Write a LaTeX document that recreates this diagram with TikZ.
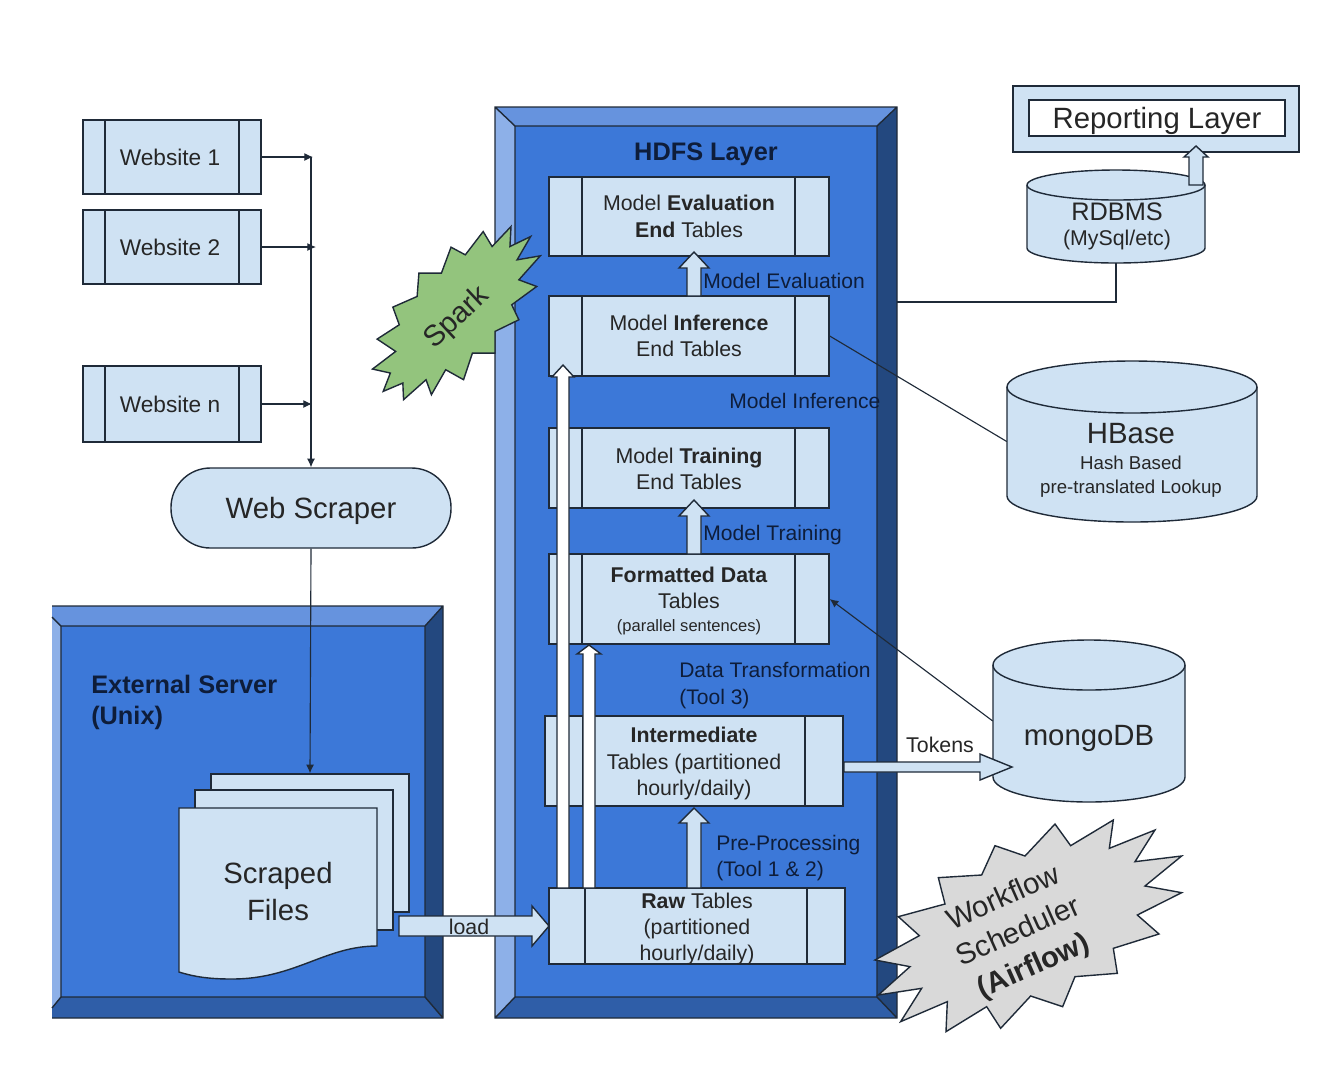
\documentclass[tikz,border=0pt]{standalone}
\usepackage{fontspec}
\setmainfont{Liberation Sans}
\usetikzlibrary{arrows.meta}
\definecolor{pale}{HTML}{CFE2F3}
\definecolor{face}{HTML}{3C78D8}
\definecolor{btop}{HTML}{6693DE}
\definecolor{bleft}{HTML}{8DB0E8}
\definecolor{bright}{HTML}{23487F}
\definecolor{bbot}{HTML}{2F5EA8}
\definecolor{edge}{HTML}{1F2A38}
\definecolor{ink}{HTML}{262626}
\definecolor{bluink}{HTML}{0E1D3A}
\definecolor{sparkc}{HTML}{93C47D}
\definecolor{wfc}{HTML}{D9D9D9}
\newcommand{\fszw}{\fontsize{17}{20}\selectfont}
\tikzset{
  ln/.style={draw=edge,line width=1.05pt,line join=miter},
  pbox/.style={ln,fill=pale,inner sep=0pt,align=center,text=ink},
  lbl/.style={inner sep=0pt,align=left,anchor=west,text=bluink},
  tip/.style={-{Latex[length=6.5pt,width=6pt]}},
  conn/.style={draw=edge,line width=0.85pt},
  f15/.style={font=\fontsize{15.8}{19.8}\selectfont},
  f16/.style={font=\fontsize{16}{19.8}\selectfont},
  f19/.style={font=\fontsize{19}{23.2}\selectfont},
  f22/.style={font=\fontsize{22}{27.7}\selectfont},
}
% name x1 y1 x2 y2 xl xr text
\newcommand{\procbox}[8]{%
  \pgfmathsetmacro\cxv{(#2+#4)/2}\pgfmathsetmacro\cyv{(#3+#5)/2}%
  \pgfmathsetmacro\wv{(#4-#2)*0.75}\pgfmathsetmacro\hv{(#5-#3)*0.75}%
  \node[pbox,f16,minimum width=\wv pt,minimum height=\hv pt] (#1) at (\cxv,\cyv) {#8};
  \draw[ln] (#6,#3) -- (#6,#5) (#7,#3) -- (#7,#5);
}
% name x1 ytop x2 ybot ry
\newcommand{\cyl}[6]{%
  \pgfmathsetmacro\cxv{(#2+#4)/2}\pgfmathsetmacro\cyv{(#3+#5)/2}%
  \pgfmathsetmacro\wv{(#4-#2)*0.75}\pgfmathsetmacro\hv{(#5-#3)*0.75}%
  \pgfmathsetmacro\rxv{(#4-#2)*0.375}\pgfmathsetmacro\ryv{#6*0.75}%
  \pgfmathsetmacro\ytv{#3+#6}\pgfmathsetmacro\ybv{#5-#6}%
  \draw[ln,fill=pale] (#2,\ytv) -- (#2,\ybv) arc[start angle=180,end angle=360,x radius=\rxv pt,y radius=\ryv pt] -- (#4,\ytv) arc[start angle=0,end angle=180,x radius=\rxv pt,y radius=\ryv pt];
  \draw[ln] (#2,\ytv) arc[start angle=180,end angle=360,x radius=\rxv pt,y radius=\ryv pt];
  \node[inner sep=0pt,minimum width=\wv pt,minimum height=\hv pt] (#1) at (\cxv,\cyv) {};
}
% vertical block arrow: xc ybottom ytip ybase halfshaft halfhead fill
\newcommand{\upblock}[7]{%
  \pgfmathsetmacro\aav{#1-#5}\pgfmathsetmacro\bbv{#1+#5}\pgfmathsetmacro\ccv{#1-#6}\pgfmathsetmacro\ddv{#1+#6}%
  \draw[ln,fill=#7] (\aav,#2) -- (\aav,#4) -- (\ccv,#4) -- (#1,#3) -- (\ddv,#4) -- (\bbv,#4) -- (\bbv,#2) -- cycle;
}
% horizontal block arrow: xstart xbase xtip yc halfshaft halfhead
\newcommand{\rightblock}[6]{%
  \pgfmathsetmacro\aav{#4-#5}\pgfmathsetmacro\bbv{#4+#5}\pgfmathsetmacro\ccv{#4-#6}\pgfmathsetmacro\ddv{#4+#6}%
  \draw[ln,fill=pale] (#1,\aav) -- (#2,\aav) -- (#2,\ccv) -- (#3,#4) -- (#2,\ddv) -- (#2,\bbv) -- (#1,\bbv) -- cycle;
}
\begin{document}
\begin{tikzpicture}[x=.75pt,y=-.75pt]
\useasboundingbox (0,0) rectangle (1334,1072);

% ---------- HDFS frame
\fill[btop] (495,107) -- (897,107) -- (877,126) -- (515,126) -- cycle;
\fill[bleft] (495,107) -- (515,126) -- (515,997) -- (495,1018) -- cycle;
\fill[bright] (897,107) -- (877,126) -- (877,997) -- (897,1018) -- cycle;
\fill[bbot] (495,1018) -- (515,997) -- (877,997) -- (897,1018) -- cycle;
\fill[face] (515,126) rectangle (877,997);
\draw[ln] (495,107) rectangle (897,1018) (515,126) rectangle (877,997)
  (495,107) -- (515,126) (897,107) -- (877,126) (495,1018) -- (515,997) (897,1018) -- (877,997);
\coordinate (hdfsEdge) at (897,302);

% ---------- External server frame
\fill[btop] (52,606) -- (443,606) -- (425,626) -- (61,626) -- (52,617) -- cycle;
\fill[bleft] (52,617) -- (61,626) -- (61,997) -- (52,1008) -- cycle;
\fill[bright] (443,606) -- (425,626) -- (425,997) -- (443,1018) -- cycle;
\fill[bbot] (52,1018) -- (52,1008) -- (61,997) -- (425,997) -- (443,1018) -- cycle;
\fill[face] (61,626) rectangle (425,997);
\draw[ln] (52,606) -- (443,606) -- (443,1018) -- (52,1018)
  (61,626) rectangle (425,997)
  (52,617) -- (61,626) (443,606) -- (425,626) (52,1008) -- (61,997) (443,1018) -- (425,997);

% ---------- Process boxes in the HDFS layer
\procbox{eval}{549}{177}{829}{256}{582}{795}{Model \textbf{Evaluation}\\\textbf{End} Tables}
\procbox{infer}{549}{296}{829}{376}{582}{795}{Model \textbf{Inference}\\End Tables}
\procbox{train}{549}{428}{829}{508}{582}{795}{\rule{0pt}{13.2pt}Model \textbf{Training}\\End Tables}
\procbox{fmt}{549}{554}{829}{644}{582}{795}{\rule{0pt}{14.6pt}\textbf{Formatted Data}\\Tables\\[-2.5pt]{\fontsize{12.4}{15}\selectfont (parallel sentences)}}
\procbox{inter}{545}{716}{843}{806}{583}{805}{\rule{0pt}{15.4pt}\textbf{Intermediate}\\Tables (partitioned\\hourly/daily)}
\procbox{raw}{549}{888}{845}{964}{585}{807}{}
\node[inner sep=0pt,align=center,text=ink,f16] (rawT) at (697,929) {\textbf{Raw} Tables\\(partitioned\\hourly/daily)};

% ---------- Block arrows
\upblock{694}{296}{252}{268}{7}{15}{pale}
\upblock{694}{554}{500}{516}{7}{15}{pale}
\upblock{694}{888}{808}{823}{7}{15}{pale}
\upblock{563}{888}{365}{377}{6}{11}{white}
\upblock{589}{888}{645}{654}{6}{12}{white}

% ---------- Websites
\procbox{w1}{83}{120}{261}{194}{105}{239}{\fszw Website 1\hspace*{3pt}}
\procbox{w2}{83}{210}{261}{284}{105}{239}{\fszw Website 2\hspace*{3pt}}
\procbox{wn}{83}{366}{261}{442}{105}{239}{\fszw Website n\hspace*{3pt}}

\node[pbox,f22,rounded corners=29.5pt,minimum width=210pt,minimum height=60pt,text height=16pt,text depth=0pt] (scraper) at (311,508) {Web Scraper};

\coordinate (bus1) at (313,157);
\coordinate (bus2) at (316,247);
\coordinate (bus3) at (312,404);
\coordinate (busTop) at (311,157);
\draw[conn,tip] (w1.east) -- (bus1);
\draw[conn,tip] (w2.east) -- (bus2);
\draw[conn,tip] (wn.east) -- (bus3);
\draw[conn,tip] (busTop) -- (scraper.north);

% ---------- Scraped files
\node[pbox,minimum width=148.5pt,minimum height=103.5pt] (sheetA) at (310,843) {};
\node[pbox,minimum width=148.5pt,minimum height=105pt] (sheetB) at (294,860) {};
\draw[ln,fill=pale] (179,808) -- (377,808) -- (377,946) .. controls (325,946) and (295,979) .. (232,979) .. controls (210,979) and (195,977) .. (179,972) -- cycle;
\node[inner sep=0pt,align=center,text=ink,f22] (files) at (278,891.5) {Scraped\\Files};
\draw[conn,tip] (scraper.south) -- (sheetA.north);

\rightblock{399}{532}{549}{926}{10}{20}
\node[inner sep=0pt,text=ink,f16] (load) at (469,927) {load};

% ---------- Labels
\node[inner sep=0pt,text=bluink,f19] (hdfslabel) at (706,154) {\textbf{HDFS Layer}};
\node[lbl,f19] (extlabel) at (91,702) {\textbf{External Server}\\\textbf{(Unix)}};
\node[lbl,f15] (lEval) at (703,281) {Model Evaluation};
\node[lbl,f15] (lInf) at (729,401) {Model Inference};
\node[lbl,f15] (lTrain) at (703,535) {Model Training};
\node[lbl,f15] (lData) at (679,685.5) {Data Transformation\\(Tool 3)};
\node[lbl,f15] (lPre) at (716,858) {Pre-Processing\\(Tool 1 \& 2)};

% ---------- Spark
\begin{scope}[shift={(360,90)},xscale=.357,yscale=.333]
\draw[ln,fill=sparkc] (423,410) -- (420,470) -- (478,440) -- (440,510) -- (505,498) -- (445,570) -- (495,590) -- (425,645) -- (445,690) -- (378,725) -- (378,790) -- (315,790) -- (290,870) -- (240,840) -- (200,915) -- (185,870) -- (122,930) -- (120,880) -- (65,905) -- (85,850) -- (35,838) -- (100,785) -- (48,748) -- (110,705) -- (92,652) -- (160,620) -- (165,550) -- (228,550) -- (255,472) -- (295,495) -- (345,425) -- (370,470) -- cycle;
\end{scope}
\node[inner sep=0pt,text=ink,rotate=43,f22] (spark) at (457,318) {Spark};

% ---------- Workflow scheduler
\begin{scope}[shift={(860,780)},scale=.3333]
\draw[ln,fill=wfc] (115,410) -- (255,372) -- (235,293) -- (365,285) -- (405,197) -- (495,228) -- (585,132) -- (632,197) -- (760,120) -- (748,205) -- (885,150) -- (825,245) -- (965,228) -- (855,318) -- (965,338) -- (832,405) -- (897,462) -- (760,505) -- (772,580) -- (645,590) -- (608,680) -- (512,648) -- (422,745) -- (380,680) -- (258,755) -- (262,665) -- (122,725) -- (185,625) -- (55,645) -- (150,560) -- (45,540) -- (178,467) -- cycle;
\end{scope}
\node[inner sep=0pt,align=center,text=ink,rotate=24,font=\fontsize{22}{28}\selectfont] (wf) at (1019,933) {Workflow\\Scheduler\\\textbf{(Airflow)}};

% ---------- Reporting layer
\draw[ln,fill=pale] (1013,86) rectangle (1299,152);
\node[ln,fill=white,inner sep=0pt,text=ink,f22,minimum width=192pt,minimum height=27pt,text height=16pt,text depth=0pt] (report) at (1157,118) {Reporting Layer};

% ---------- Databases
\cyl{rdbms}{1027}{170}{1205}{263}{15}
\node[inner sep=0pt,text=ink,f19] (rdbmsT) at (1117,212) {RDBMS};
\node[inner sep=0pt,text=ink,f16] (rdbmsS) at (1117,240) {(MySql/etc)};
\upblock{1196}{185}{146}{157}{7}{12}{pale}

\cyl{hbase}{1007}{361}{1257}{522}{26}
\node[inner sep=0pt,text=ink,f22] (hbaseT) at (1131,434) {HBase};
\node[inner sep=0pt,align=center,text=ink,font=\fontsize{14}{18}\selectfont] (hbaseS) at (1131,476.5) {Hash Based\\pre-translated Lookup};

\cyl{mongo}{993}{640}{1185}{802}{25}
\node[inner sep=0pt,text=ink,f22] (mongoT) at (1089,738) {mongoDB};

% ---------- Connectors
\draw[conn] (rdbms.south) |- (hdfsEdge);
\draw[conn] (infer.east) -- (hbase.west);
\draw[conn,tip] (mongo.west) -- (fmt.east);
\rightblock{844}{980}{1012}{767}{5}{13}
\node[inner sep=0pt,text=ink,f16] (tokens) at (940,745) {Tokens};
\end{tikzpicture}
\end{document}
